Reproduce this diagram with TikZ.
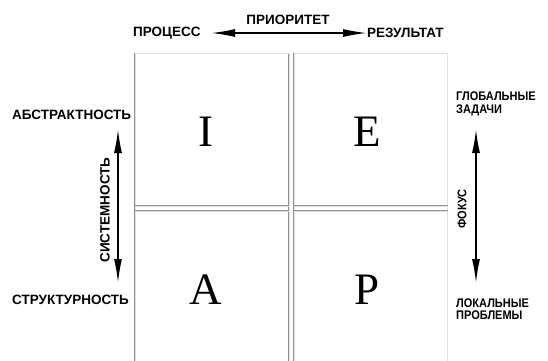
\documentclass[tikz,border=0pt]{standalone}
\usepackage{fontspec}
\setmainfont{Liberation Sans}
\newfontfamily\letterfont{Liberation Serif}
\newfontfamily\narrowfont[FakeStretch=0.88]{Liberation Sans}
\usetikzlibrary{arrows.meta}
\begin{document}
\begin{tikzpicture}[x=1pt,y=-1pt,
  lab/.style={font=\fontsize{13.5}{14}\selectfont\bfseries, inner sep=0pt},
  rlab/.style={font=\narrowfont\fontsize{12.5}{13}\selectfont\bfseries, inner sep=0pt},
  quad/.style={draw=gray!85, double=gray!25, line width=0.55pt, double distance=0.7pt},
  big/.style={font=\letterfont\fontsize{45}{45}\selectfont, inner sep=0pt},
  biarrow/.style={{Latex[length=24pt,width=8pt]}-{Latex[length=24pt,width=8pt]}, line width=1.6pt}]
\useasboundingbox (0,0) rectangle (548,360);
% quadrants
\draw[quad] (135,365) -- (135,53.5) -- (289,53.5) -- (289,365);
\draw[quad] (294,365) -- (294,53.5) -- (447.5,53.5) -- (447.5,365);
\draw[quad] (135,206) -- (289,206);
\draw[quad] (294,206) -- (447.5,206);
\draw[quad] (135,211) -- (289,211);
\draw[quad] (294,211) -- (447.5,211);
\node[big] (I) at (206,131.5) {I};
\node[big] (E) at (367,131.5) {E};
\node[big] (A) at (206,290) {A};
\node[big] (P) at (367,290) {P};
% top
\node[lab, anchor=west] (proc) at (133,33) {ПРОЦЕСС};
\node[lab, anchor=west] (res) at (367,33) {РЕЗУЛЬТАТ};
\node[lab] (prio) at (288,20) {ПРИОРИТЕТ};
\coordinate (tl) at (211,33);
\coordinate (tr) at (367,33);
\draw[biarrow] (tl) -- (tr);
% left
\node[lab, anchor=west] (abs) at (12,115) {АБСТРАКТНОСТЬ};
\node[lab, anchor=west] (str) at (12,300) {СТРУКТУРНОСТЬ};
\node[lab, rotate=90] (sys) at (105,210) {СИСТЕМНОСТЬ};
\coordinate (lt) at (118,129);
\coordinate (lb) at (118,283);
\draw[biarrow] (lt) -- (lb);
% right
\node[rlab, anchor=west, align=left] (glob) at (456,104) {ГЛОБАЛЬНЫЕ\\[-0.5pt]ЗАДАЧИ};
\node[rlab, anchor=west, align=left] (loc) at (456,309) {ЛОКАЛЬНЫЕ\\[-0.5pt]ПРОБЛЕМЫ};
\node[rlab, rotate=90] (foc) at (462,209) {ФОКУС};
\coordinate (rt) at (476,129);
\coordinate (rb) at (476,283);
\draw[biarrow] (rt) -- (rb);
\end{tikzpicture}
\end{document}
